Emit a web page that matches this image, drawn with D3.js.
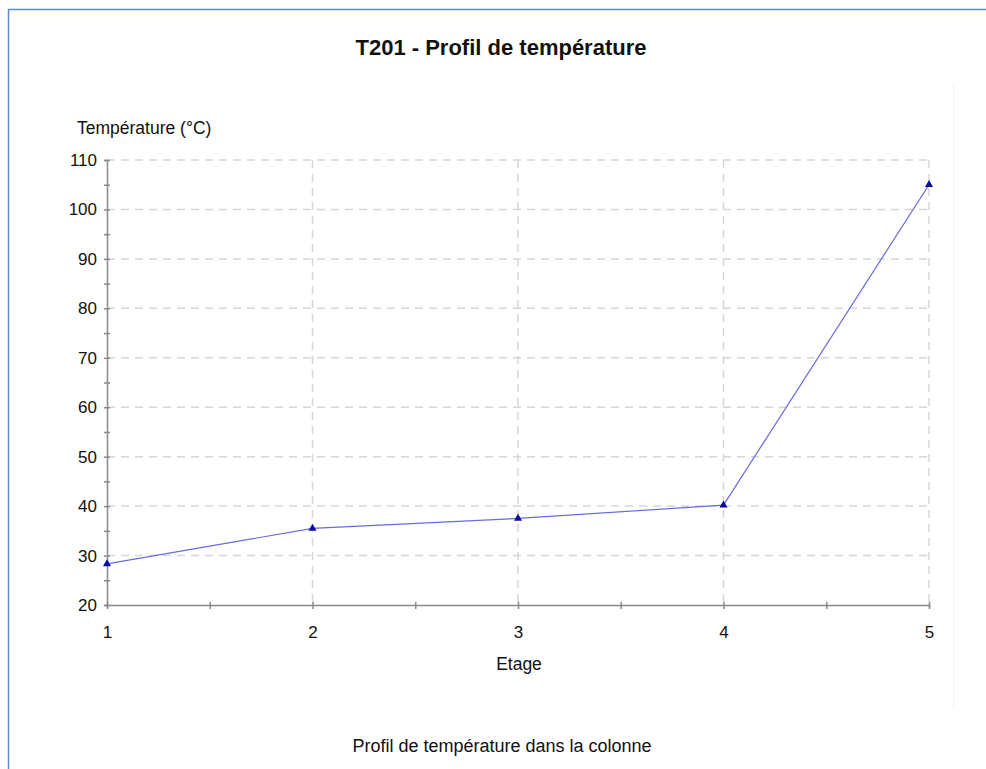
<!DOCTYPE html>
<html>
<head>
<meta charset="utf-8">
<script src="https://cdn.jsdelivr.net/npm/d3@7"></script>
<style>
  html, body { margin: 0; padding: 0; background: #fff; }
  svg { display: block; font-family: "Liberation Sans", Arial, sans-serif; }
</style>
</head>
<body>
<svg id="chart" width="986" height="769"></svg>
<script>
// Temperature profile along the column stages
const stages = [1, 2, 3, 4, 5];
const temperatures = [28.3, 35.5, 37.5, 40.2, 105.0];
const yTicks = [20, 30, 40, 50, 60, 70, 80, 90, 100, 110];
const xTicks = [1, 2, 3, 4, 5];

(function () {
  const svg = d3.select("#chart");
  const W = 986, H = 769;

  // Page frame (top and left edge lines)
  svg.append("line").attr("x1", 8).attr("x2", W).attr("y1", 9.5).attr("y2", 9.5)
    .attr("stroke", "#5b8bd0").attr("stroke-width", 1.5);
  svg.append("line").attr("x1", 8.5).attr("x2", 8.5).attr("y1", 9).attr("y2", H)
    .attr("stroke", "#5b8bd0").attr("stroke-width", 1.5);

  // Faint right edge of the chart panel
  svg.append("line").attr("x1", 953.5).attr("x2", 953.5).attr("y1", 85).attr("y2", 708)
    .attr("stroke", "#f1f1fb").attr("stroke-width", 1);

  const plotLeft = 107, plotRight = 929, plotTop = 160, plotBottom = 605;
  const x = d3.scaleLinear().domain([1, 5]).range([plotLeft, plotRight]);
  const y = d3.scaleLinear().domain([20, 110]).range([plotBottom, plotTop]);

  // Title
  svg.append("text").attr("x", 501).attr("y", 55).attr("text-anchor", "middle")
    .attr("font-size", 22).attr("font-weight", "bold").attr("fill", "#111")
    .text("T201 - Profil de température");

  // Dashed grid
  const grid = svg.append("g").attr("stroke", "#d6d6d6").attr("stroke-dasharray", "8,6").attr("stroke-width", 1.5);
  yTicks.filter(v => v > 20).forEach(v => {
    grid.append("line").attr("x1", plotLeft).attr("x2", plotRight)
      .attr("y1", y(v)).attr("y2", y(v));
  });
  xTicks.filter(v => v > 1).forEach(v => {
    grid.append("line").attr("y1", plotTop).attr("y2", plotBottom)
      .attr("x1", x(v)).attr("x2", x(v));
  });

  // Axes
  const axisColor = "#8a8a8a";
  const yAxis = d3.axisLeft(y).tickValues(yTicks).tickSize(3).tickPadding(7).tickFormat(d3.format("d"));
  const yMinor = d3.axisLeft(y).tickValues(d3.range(25, 110, 10)).tickSize(3).tickFormat("");
  const xAxis = d3.axisBottom(x).tickValues(xTicks).tickSize(3).tickPadding(18).tickFormat(d3.format("d"));
  const xMinor = d3.axisBottom(x).tickValues([1.5, 2.5, 3.5, 4.5]).tickSize(3).tickFormat("");

  function styleAxis(g) {
    g.select(".domain").attr("stroke", axisColor).attr("stroke-width", 1.5);
    g.selectAll(".tick line").attr("stroke", axisColor).attr("stroke-width", 1.5);
    g.selectAll(".tick text").attr("fill", "#111").attr("font-size", 17)
      .attr("font-family", "'Liberation Sans', Arial, sans-serif");
  }

  const gy = svg.append("g").attr("transform", `translate(${plotLeft},0)`).call(yAxis).call(styleAxis);
  gy.selectAll(".tick line").attr("x2", -3).attr("x1", 3);
  gy.selectAll(".tick text").attr("x", -10);
  const gym = svg.append("g").attr("transform", `translate(${plotLeft},0)`).call(yMinor).call(styleAxis);
  gym.select(".domain").remove();
  gym.selectAll(".tick line").attr("x2", -3).attr("x1", 3);

  const gx = svg.append("g").attr("transform", `translate(0,${plotBottom})`).call(xAxis).call(styleAxis);
  gx.selectAll(".tick line").attr("y1", -3).attr("y2", 4);
  const gxm = svg.append("g").attr("transform", `translate(0,${plotBottom})`).call(xMinor).call(styleAxis);
  gxm.select(".domain").remove();
  gxm.selectAll(".tick line").attr("y1", -3).attr("y2", 4);

  // Axis labels
  svg.append("text").attr("x", 77).attr("y", 134).attr("font-size", 17.5).attr("fill", "#111")
    .text("Température (°C)");
  svg.append("text").attr("x", 519).attr("y", 670).attr("text-anchor", "middle")
    .attr("font-size", 17.5).attr("fill", "#111").text("Etage");

  // Footer caption
  svg.append("text").attr("x", 502).attr("y", 752).attr("text-anchor", "middle")
    .attr("font-size", 18).attr("fill", "#111").text("Profil de température dans la colonne");

  // Series line and triangle markers
  const pts = stages.map((s, i) => [s, temperatures[i]]);
  svg.append("path").datum(pts)
    .attr("fill", "none").attr("stroke", "#6a6adf").attr("stroke-width", 1.2)
    .attr("d", d3.line().x(d => x(d[0])).y(d => y(d[1])));

  svg.append("g").selectAll("path").data(pts).join("path")
    .attr("transform", d => `translate(${x(d[0])},${y(d[1])})`)
    .attr("d", d3.symbol().type(d3.symbolTriangle).size(28))
    .attr("fill", "#0a0aa0");
})();
</script>
</body>
</html>
